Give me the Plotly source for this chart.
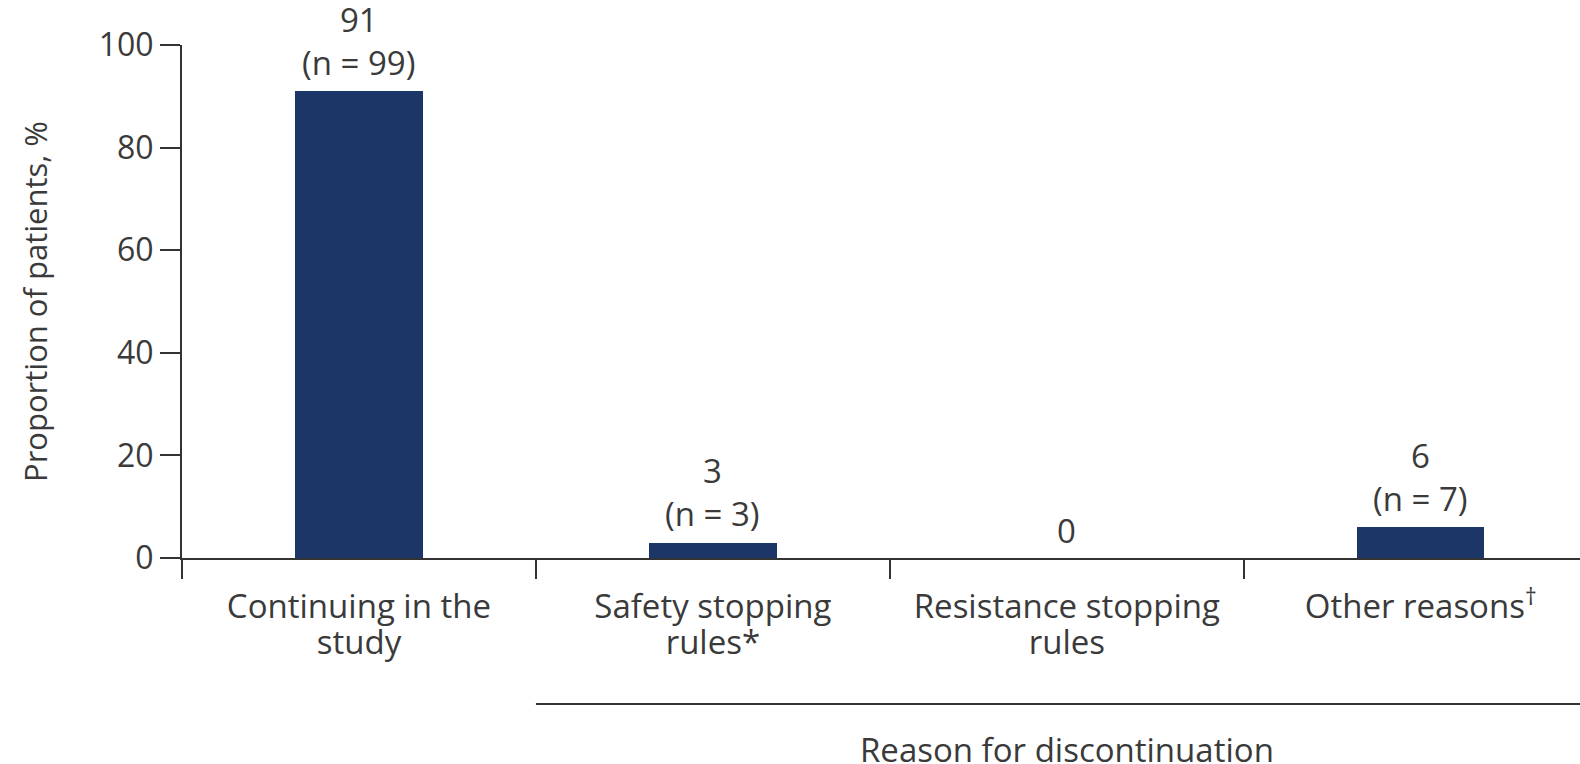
import plotly.graph_objects as go

# Patient disposition data
categories = [
    "Continuing in the<br>study",
    "Safety stopping<br>rules*",
    "Resistance stopping<br>rules",
    "Other reasons<sup>†</sup>",
]
percent = [91, 3, 0, 6]
n_patients = [99, 3, 0, 7]
y_ticks = [0, 20, 40, 60, 80, 100]

BAR_COLOR = "#1b3667"
TEXT_COLOR = "#3a3a3a"
AXIS_COLOR = "#333333"
FONT = "'Open Sans', Lato, sans-serif"
FS = 33

W, H = 1580, 764
M_LEFT, M_RIGHT, M_TOP, M_BOTTOM = 182, 0, 45, 206


def big(text, size=FS):
    # enlarge glyphs while keeping the tighter line spacing of the base font
    return "<br>".join(
        f'<span style="font-size:{size}px">{line}</span>' for line in text.split("<br>")
    )


fig = go.Figure()
fig.add_trace(
    go.Bar(
        x=list(range(len(categories))),
        y=percent,
        width=0.36,
        marker=dict(color=BAR_COLOR, line=dict(width=0)),
        hoverinfo="skip",
    )
)

# Value labels above each bar: percentage on top, patient count below it
label_font = dict(family=FONT, size=FS, color=TEXT_COLOR)
for i, (pct, n) in enumerate(zip(percent, n_patients)):
    if n > 0:
        fig.add_annotation(
            x=i, y=pct, xref="x", yref="y", text=f"(n = {n})",
            showarrow=False, yanchor="middle", yshift=29, font=label_font,
        )
        fig.add_annotation(
            x=i, y=pct, xref="x", yref="y", text=f"{pct}",
            showarrow=False, yanchor="middle", yshift=72, font=label_font,
        )
    else:
        fig.add_annotation(
            x=i, y=pct, xref="x", yref="y", text=f"{pct}",
            showarrow=False, yanchor="middle", yshift=28, font=label_font,
        )

plot_h = H - M_TOP - M_BOTTOM


def paper_y(px_from_top):
    return (H - M_BOTTOM - px_from_top) / plot_h


# Bracket for discontinuation reasons
fig.add_shape(
    type="line", xref="x", yref="paper",
    x0=0.5, x1=3.45, y0=paper_y(704), y1=paper_y(704),
    line=dict(color=AXIS_COLOR, width=2),
)
fig.add_annotation(
    x=2, y=paper_y(749), xref="x", yref="paper",
    text="Reason for discontinuation", showarrow=False,
    yanchor="middle",
    font=dict(family=FONT, size=FS, color=TEXT_COLOR),
)

fig.update_layout(
    width=W, height=H,
    margin=dict(l=M_LEFT, r=M_RIGHT, t=M_TOP, b=M_BOTTOM, autoexpand=False),
    paper_bgcolor="white", plot_bgcolor="white",
    showlegend=False,
    font=dict(family=FONT, size=FS, color=TEXT_COLOR),
    bargap=0,
)
# Category labels centred under each bar, ticks on the category boundaries
fig.update_xaxes(
    range=[-0.5, 3.45],
    tickvals=list(range(len(categories))),
    ticktext=[big(c) for c in categories],
    ticks="", showline=True, linecolor=AXIS_COLOR, linewidth=2,
    showgrid=False, zeroline=False,
    tickfont=dict(family=FONT, size=27, color=TEXT_COLOR),
    ticklabelstandoff=26,
    automargin=False,
)
fig.update_layout(
    xaxis2=dict(
        overlaying="x", matches="x", side="bottom", anchor="y",
        range=[-0.5, 3.45],
        tickvals=[i - 0.5 for i in range(len(categories))],
        showticklabels=False,
        ticks="outside", ticklen=20, tickwidth=2, tickcolor=AXIS_COLOR,
        showline=False, showgrid=False, zeroline=False,
    )
)
fig.add_trace(go.Scatter(x=[], y=[], xaxis="x2", yaxis="y", showlegend=False))

fig.update_yaxes(
    range=[0, 100],
    tickvals=y_ticks,
    ticks="outside", ticklen=20, tickwidth=2, tickcolor=AXIS_COLOR,
    showline=True, linecolor=AXIS_COLOR, linewidth=2,
    showgrid=False, zeroline=False,
    tickfont=dict(family=FONT, size=32, color=TEXT_COLOR),
    title=dict(text="Proportion of patients, %", standoff=42,
               font=dict(family=FONT, size=31, color=TEXT_COLOR)),
    automargin=False,
)

fig.write_html("out.html")
